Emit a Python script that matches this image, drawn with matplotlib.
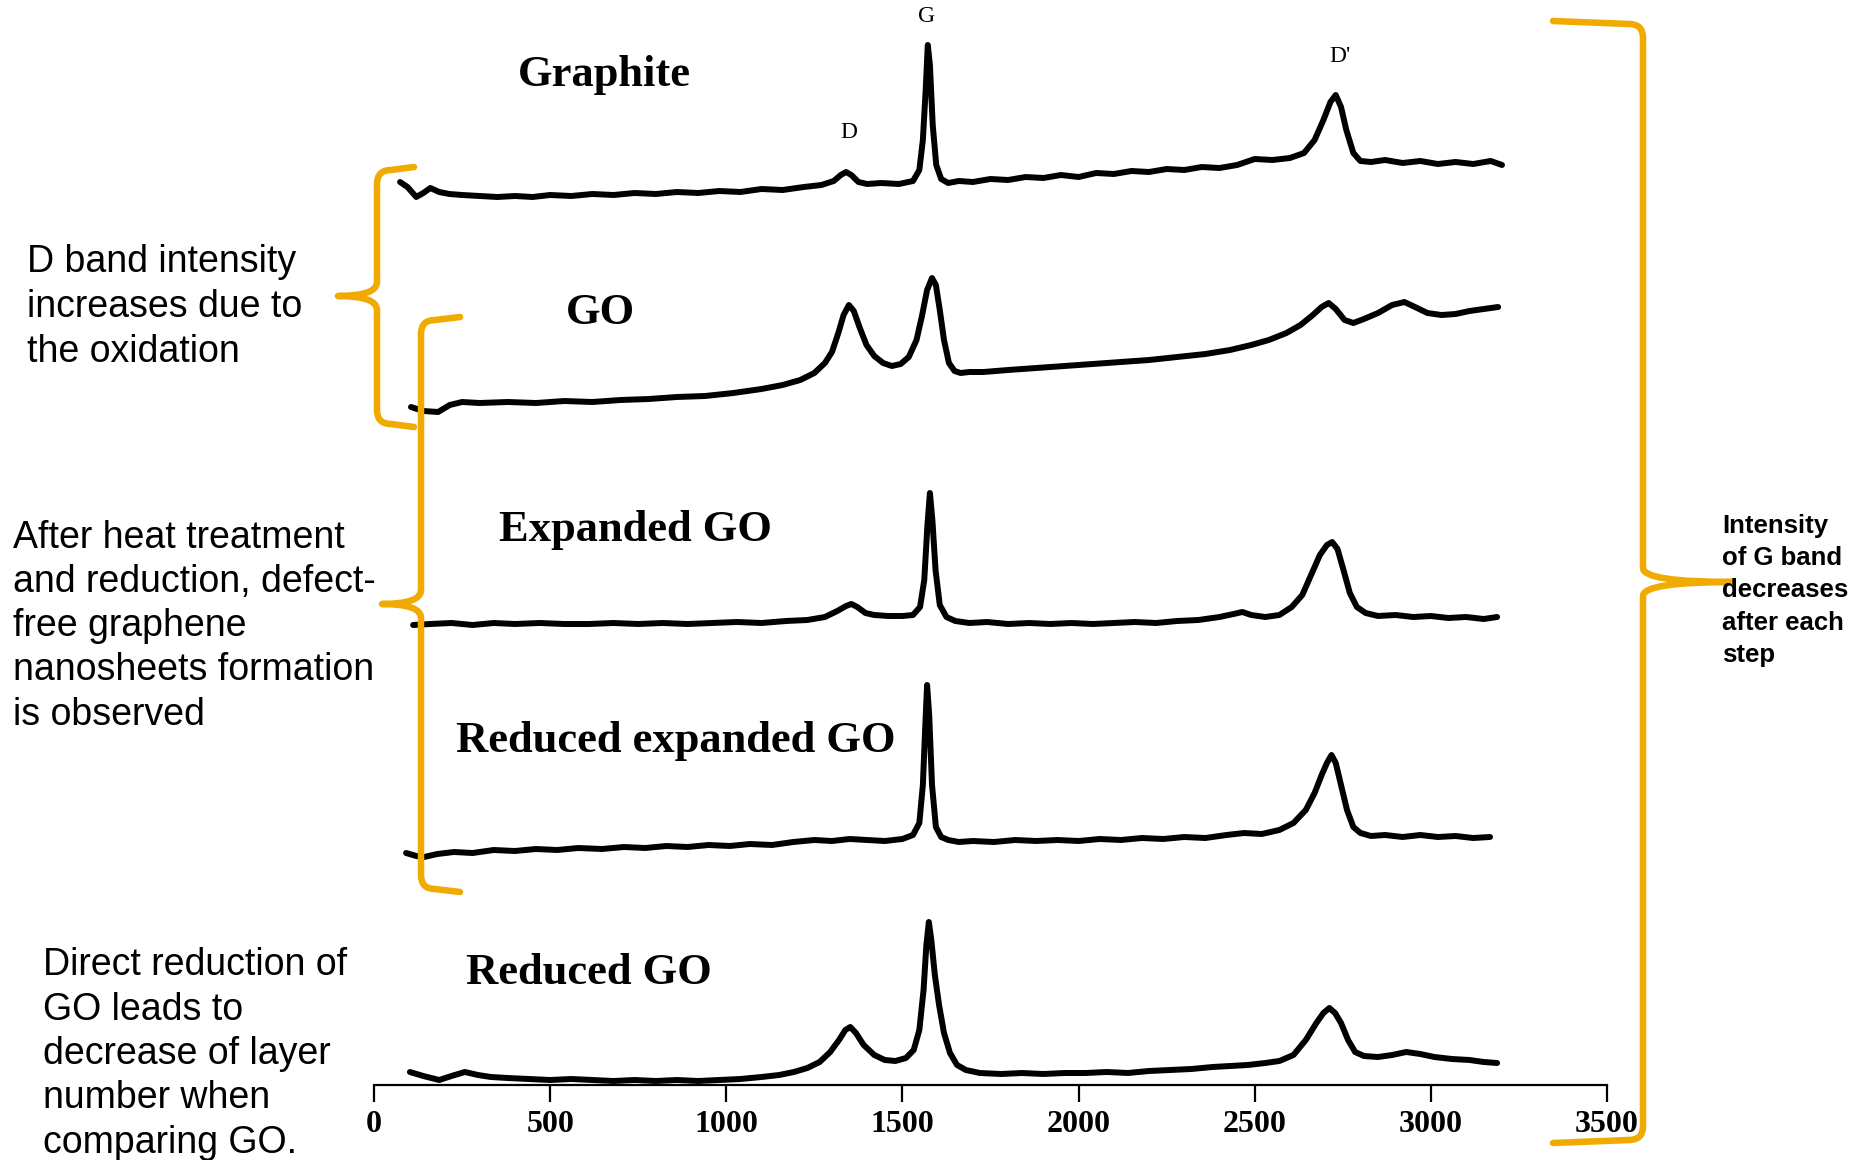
import matplotlib
matplotlib.use("Agg")
import matplotlib.pyplot as plt
from matplotlib.path import Path
from matplotlib.patches import PathPatch

# ---- data, raman shift in cm-1, stacked intensity in a.u.
wn_graphite = [74, 95, 120, 140, 160, 185, 214, 250, 300, 350, 400, 450, 500, 560, 620, 680, 740, 800,
               860, 920, 980, 1040, 1100, 1160, 1220, 1270, 1305, 1325, 1340, 1355, 1375, 1400, 1440,
               1490, 1530, 1548, 1558, 1566, 1572, 1578, 1586, 1596, 1610, 1630, 1660, 1700, 1750, 1800,
               1850, 1900, 1950, 2000, 2050, 2100, 2150, 2200, 2250, 2300, 2350, 2400, 2450, 2500, 2550,
               2600, 2640, 2670, 2695, 2715, 2730, 2745, 2760, 2780, 2800, 2830, 2870, 2920, 2970, 3020,
               3070, 3120, 3170, 3202]
int_graphite = [903, 898, 888, 892, 897, 893, 891, 890, 889, 888, 889, 888, 890, 889, 891, 890, 892, 891,
                893, 892, 894, 893, 896, 895, 898, 900, 904, 910, 913, 910, 903, 901, 902,
                901, 904, 915, 945, 995, 1040, 1020, 960, 920, 906, 902, 904, 903, 906, 905,
                908, 907, 910, 908, 912, 911, 914, 913, 916, 915, 918, 917, 920, 926, 925,
                927, 932, 945, 965, 983, 990, 978, 955, 932, 924, 923, 925, 922, 924, 921,
                923, 921, 924, 920]

wn_go = [105, 140, 182, 215, 250, 300, 380, 460, 540, 620, 700, 780, 860, 940, 1020, 1100, 1160, 1210,
         1250, 1280, 1300, 1318, 1333, 1348, 1362, 1378, 1398, 1420, 1445, 1470, 1495, 1518, 1540, 1556,
         1570, 1584, 1595, 1606, 1618, 1632, 1648, 1665, 1690, 1730, 1800, 1880, 1960, 2040, 2120, 2200,
         2280, 2360, 2430, 2490, 2540, 2590, 2630, 2665, 2690, 2710, 2730, 2755, 2780, 2810, 2850, 2890,
         2925, 2955, 2990, 3030, 3070, 3110, 3150, 3191]
int_go = [678, 674, 673, 680, 683, 682, 683, 682, 684, 683, 685, 686, 688, 689, 692, 696, 700, 705,
          712, 722, 733, 752, 770, 780, 774, 758, 740, 729, 722, 719, 721, 728, 745, 770,
          795, 807, 800, 775, 745, 722, 714, 712, 713, 713, 715, 717, 719, 721, 723, 725,
          728, 731, 735, 740, 745, 752, 760, 770, 778, 782, 776, 765, 762, 766, 772, 780,
          783, 778, 772, 770, 771, 774, 776, 778]

wn_exp = [111, 160, 220, 280, 340, 400, 470, 540, 610, 680, 750, 820, 890, 960, 1030, 1100, 1170, 1230,
          1280, 1315, 1340, 1355, 1372, 1395, 1420, 1460, 1500, 1530, 1550, 1562, 1571, 1578, 1585, 1594,
          1606, 1625, 1650, 1690, 1740, 1800, 1860, 1920, 1980, 2040, 2100, 2160, 2220, 2280, 2340, 2400,
          2440, 2465, 2490, 2530, 2570, 2605, 2635, 2660, 2685, 2705, 2720, 2735, 2752, 2770, 2790, 2815,
          2850, 2900, 2950, 3000, 3050, 3100, 3150, 3188]
int_exp = [460, 461, 462, 460, 462, 461, 462, 461, 461, 462, 461, 462, 461, 462, 463, 462, 464, 465,
           468, 474, 479, 481, 478, 472, 470, 469, 469, 470, 478, 505, 560, 592, 565, 515,
           480, 468, 464, 462, 463, 461, 462, 461, 462, 461, 462, 463, 462, 464, 465, 468,
           471, 473, 470, 468, 470, 478, 490, 510, 530, 540, 543, 536, 515, 492, 478, 472,
           469, 470, 468, 469, 467, 468, 466, 468]

wn_rexp = [91, 120, 142, 180, 227, 280, 340, 400, 460, 520, 580, 647, 710, 770, 830, 890, 950, 1010,
           1067, 1130, 1190, 1250, 1300, 1350, 1400, 1450, 1500, 1530, 1548, 1558, 1565, 1570, 1576, 1584,
           1595, 1610, 1630, 1660, 1700, 1760, 1820, 1880, 1940, 2000, 2060, 2120, 2180, 2240, 2300, 2360,
           2420, 2470, 2520, 2570, 2610, 2645, 2670, 2690, 2705, 2718, 2730, 2745, 2762, 2780, 2800, 2830,
           2870, 2920, 2970, 3020, 3070, 3120, 3168]
int_rexp = [232, 229, 228, 231, 233, 232, 235, 234, 236, 235, 237, 236, 238, 237, 239, 238, 240, 239,
            241, 240, 243, 245, 244, 246, 245, 244, 246, 250, 262, 300, 360, 400, 370, 300,
            258, 248, 245, 243, 244, 243, 245, 244, 245, 244, 246, 245, 247, 246, 248, 247,
            250, 252, 251, 255, 262, 275, 292, 310, 322, 330, 322, 300, 275, 258, 252, 249,
            250, 248, 250, 248, 249, 247, 248]

wn_rgo = [102, 140, 185, 220, 258, 295, 332, 380, 440, 500, 560, 620, 680, 740, 800, 860, 920, 980,
          1040, 1100, 1150, 1192, 1230, 1265, 1295, 1320, 1338, 1352, 1368, 1390, 1420, 1450, 1480, 1510,
          1532, 1548, 1560, 1568, 1575, 1582, 1592, 1604, 1618, 1635, 1655, 1680, 1720, 1780, 1840, 1900,
          1960, 2020, 2080, 2140, 2200, 2260, 2320, 2380, 2430, 2480, 2530, 2570, 2610, 2645, 2675, 2695,
          2712, 2728, 2745, 2765, 2785, 2810, 2850, 2890, 2930, 2970, 3010, 3060, 3110, 3150, 3188]
int_rgo = [13, 9, 5, 9, 13, 10, 8, 7, 6, 5, 6, 5, 4, 5, 4, 5, 4, 5,
           6, 8, 10, 13, 17, 23, 33, 45, 55, 58, 52, 40, 30, 25, 24, 27,
           35, 55, 95, 140, 163, 145, 110, 80, 52, 32, 20, 15, 12, 11, 12, 11,
           12, 12, 13, 12, 14, 15, 16, 18, 19, 20, 22, 24, 30, 45, 62, 72,
           77, 72, 62, 45, 33, 29, 28, 30, 33, 31, 28, 26, 25, 23, 22]

spectra = [(wn_graphite, int_graphite), (wn_go, int_go), (wn_exp, int_exp),
           (wn_rexp, int_rexp), (wn_rgo, int_rgo)]
sample_names = ["Graphite", "GO", "Expanded GO", "Reduced expanded GO", "Reduced GO"]
x_ticks = [0, 500, 1000, 1500, 2000, 2500, 3000, 3500]

W, H = 1873, 1160
ORANGE = "#F0AA00"

fig = plt.figure(figsize=(W / 100, H / 100), dpi=100)
fig.patch.set_facecolor("white")

# spectra axes: x maps 0 -> px 374, 3500 -> px 1607 ; y = px above axis line (px 1085)
k = (1607 - 374) / 3500
ax = fig.add_axes([0, 0, 1, 1])
ax.set_xlim(-374 / k, (W - 374) / k)
ax.set_ylim(-(H - 1085), 1085)
ax.patch.set_alpha(0)

for wn, inten in spectra:
    ax.plot(wn, inten, color="black", lw=4.3, solid_joinstyle="round", solid_capstyle="round")

for s in ["top", "left", "right"]:
    ax.spines[s].set_visible(False)
ax.spines["bottom"].set_position(("data", 0))
ax.spines["bottom"].set_bounds(0, 3500)
ax.spines["bottom"].set_linewidth(1.6)
ax.set_yticks([])
ax.set_xticks(x_ticks)
ax.set_xticklabels([str(t) for t in x_ticks])
ax.tick_params(axis="x", direction="out", length=12, width=1.6, pad=6, labelsize=23)
for lbl in ax.get_xticklabels():
    lbl.set_fontfamily("Liberation Serif")
    lbl.set_fontweight("bold")

# overlay in pixel coordinates for the annotations
ov = fig.add_axes([0, 0, 1, 1])
ov.set_xlim(0, W)
ov.set_ylim(H, 0)
ov.axis("off")
ov.patch.set_alpha(0)

serif = dict(family="Liberation Serif", fontweight="bold", fontsize=32, ha="center", va="center")
label_pos = [(604, 75), (600, 313), (635, 530), (676, 741), (589, 973)]
for name, (x, y) in zip(sample_names, label_pos):
    ov.text(x, y, name, **serif)

peak = dict(family="Liberation Serif", fontsize=17, ha="center", va="center")
ov.text(927, 17, "G", **peak)
ov.text(849, 132, "D", **peak)
ov.text(1340, 57, "D'", **peak)


def text_block(x, y0, dy, lines, **kw):
    for i, s in enumerate(lines):
        ov.text(x, y0 + i * dy, s, va="center", ha="left", **kw)


sans = dict(family="Liberation Sans", fontsize=27)
text_block(27, 262.5, 44.5, ["D band intensity", "increases due to", "the oxidation"], **sans)
text_block(13, 537.5, 44.3, ["After heat treatment", "and reduction, defect-", "free graphene",
                             "nanosheets formation", "is observed"], **sans)
text_block(43, 965, 44.5, ["Direct reduction of", "GO leads to", "decrease of layer",
                           "number when", "comparing GO."], **sans)
text_block(1722, 526, 32.2, ["Intensity", "of G band", "decreases", "after each", "step"],
           family="Liberation Sans", fontsize=18.5, fontweight="bold")


def brace(x0, y_top, y_bot, x_tip, y_tip, x_hook, r=14, lift=3):
    # curly brace: vertical at x0, tip pointing to x_tip, hooks ending at x_hook
    sgn_h = 1 if x_hook > x0 else -1
    verts = [(x_hook, y_top - lift), (x0 + sgn_h * r, y_top),
             (x0, y_top), (x0, y_top + r),
             (x0, y_tip - r),
             (x0, y_tip), (x_tip, y_tip),
             (x0, y_tip), (x0, y_tip + r),
             (x0, y_bot - r),
             (x0, y_bot), (x0 + sgn_h * r, y_bot),
             (x_hook, y_bot + lift)]
    codes = [Path.MOVETO, Path.LINETO,
             Path.CURVE3, Path.CURVE3,
             Path.LINETO,
             Path.CURVE3, Path.CURVE3,
             Path.CURVE3, Path.CURVE3,
             Path.LINETO,
             Path.CURVE3, Path.CURVE3,
             Path.LINETO]
    ov.add_patch(PathPatch(Path(verts, codes), fill=False, edgecolor=ORANGE, lw=4.7,
                           capstyle="round", joinstyle="round"))


brace(377, 170, 424, 338, 296, 414)
brace(421, 320, 889, 382, 604, 460)
brace(1643, 24, 1140, 1733, 582, 1553)

fig.savefig("out.png", dpi=100, facecolor="white")
